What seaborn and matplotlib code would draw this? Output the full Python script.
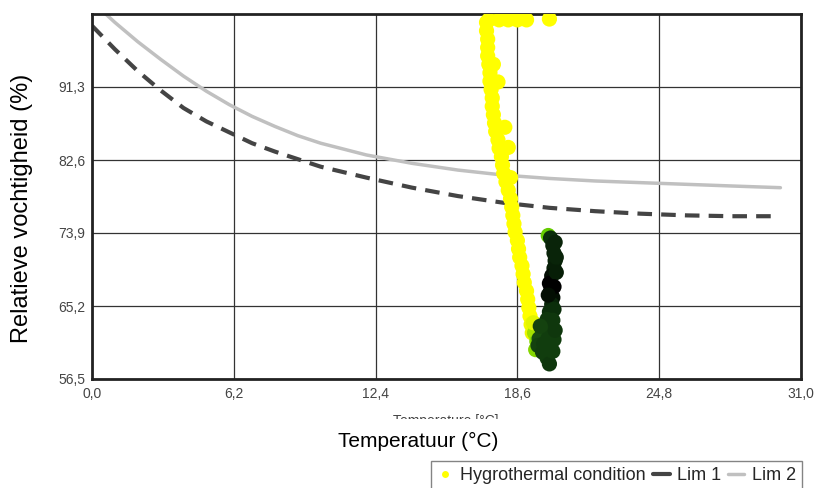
import numpy as np
import pandas as pd
import matplotlib
matplotlib.use("Agg")
import matplotlib.pyplot as plt
import seaborn as sns
from matplotlib.colors import LinearSegmentedColormap
from matplotlib.lines import Line2D
from matplotlib.patches import Rectangle

# limit curves
lim1_t = [0, 1, 2, 3, 4, 5, 6, 7, 8, 9, 10, 12, 14, 16, 18, 20, 22, 24, 26, 28, 29.7]
lim1_rh = [98.6, 95.8, 93.2, 90.9, 88.8, 87.2, 85.9, 84.6, 83.6, 82.7, 81.8, 80.5,
           79.3, 78.3, 77.5, 76.9, 76.5, 76.2, 76.0, 75.9, 75.9]
lim2_t = [0, 1, 2, 3, 4, 5, 6, 7, 8, 9, 10, 12, 14, 16, 18, 20, 22, 24, 26, 28, 30.1]
lim2_rh = [101.5, 99.0, 96.7, 94.6, 92.6, 90.8, 89.2, 87.8, 86.6, 85.5, 84.6, 83.2,
           82.2, 81.4, 80.8, 80.4, 80.1, 79.9, 79.7, 79.5, 79.3]

# hygrothermal measurements: temperature, rh and shade (0 = yellow ... 1 = black)
yel_t = [17.35, 17.8, 18.2, 18.6, 19.0, 20.0,
         17.25, 17.25, 17.3, 17.3, 17.3, 17.35, 17.4, 17.4, 17.45, 17.5, 17.5, 17.55,
         17.6, 17.65, 17.75, 17.8, 17.9, 17.95, 18.0, 18.1, 18.2, 18.3, 18.35, 18.4,
         18.45, 18.5, 18.6, 18.65, 18.7, 18.8, 18.85, 18.9, 19.0, 19.05, 19.1, 19.15,
         19.2, 19.25,
         17.75, 18.05, 18.2, 17.55, 18.3]
yel_rh = [99.3, 99.3, 99.3, 99.3, 99.3, 99.4,
          99, 98, 97, 96, 95, 94, 93, 92, 91, 90, 89, 88,
          87, 86, 85, 84, 83, 82, 81, 80, 79, 78, 77, 76,
          75, 74, 73, 72, 71, 70, 69, 68, 67, 66, 65, 64,
          63, 62,
          91.9, 86.5, 84.1, 94.0, 80.5]
yel_shade = [0] * 42 + [0.15, 0.2] + [0] * 5

mix_t = [19.95, 19.35, 19.4, 19.3, 19.45]
mix_rh = [73.6, 62.0, 60.0, 63.2, 61.0]
mix_shade = [0.5, 0.4, 0.45, 0.3, 0.45]

dark_t = [20.05, 20.15, 20.2, 20.25, 20.2, 20.1, 20.0, 20.05, 20.15, 20.1,
          20.25, 20.3, 20.3, 20.2, 19.95, 20.2,
          20.0, 19.9, 19.85, 19.7, 19.55, 19.5, 19.75, 19.95, 20.2, 20.25, 20.15,
          19.7, 19.9, 20.0, 20.15, 19.6]
dark_rh = [73.3, 72.4, 71.5, 70.6, 69.7, 68.8, 67.9, 67.0, 66.2, 65.4,
           72.8, 71.0, 69.2, 67.5, 66.5, 64.8,
           64.5, 63.6, 62.7, 62.0, 61.3, 60.5, 60.7, 61.4, 61.2, 62.3, 63.5,
           59.7, 59.0, 58.3, 59.8, 62.8]
dark_shade = [0.85, 0.88, 0.88, 0.88, 0.9, 0.95, 1.0, 1.0, 0.95, 0.88,
              0.88, 0.88, 0.9, 1.0, 0.95, 0.85,
              0.85, 0.82, 0.8, 0.78, 0.75, 0.78, 0.8, 0.8, 0.8, 0.82, 0.82,
              0.8, 0.8, 0.82, 0.8, 0.78]

x_ticks = [0, 6.2, 12.4, 18.6, 24.8, 31.0]
y_ticks = [56.5, 65.2, 73.9, 82.6, 91.3]

sns.set_style("white")
plt.rcParams["font.family"] = ["Liberation Sans", "DejaVu Sans"]

fig = plt.figure(figsize=(8.14, 4.88), dpi=100)
ax = fig.add_axes([92 / 814, 1 - 379 / 488, (801 - 92) / 814, (379 - 14) / 488])

cmap = LinearSegmentedColormap.from_list(
    "hyg", [(0, "#ffff00"), (0.3, "#e2f500"), (0.5, "#66cc00"), (0.7, "#1e5a14"),
            (0.85, "#0b2e0b"), (1.0, "#000000")])

pts = pd.DataFrame({"t": yel_t + mix_t + dark_t,
                    "rh": yel_rh + mix_rh + dark_rh,
                    "shade": yel_shade + mix_shade + dark_shade})
sns.scatterplot(data=pts, x="t", y="rh", hue="shade", palette=cmap, hue_norm=(0, 1),
                s=120, linewidth=0, legend=False, ax=ax, zorder=3)

sns.lineplot(x=lim1_t, y=lim1_rh, color="#444444", lw=3, ax=ax, zorder=2,
             linestyle=(0, (3.5, 2.2)))
sns.lineplot(x=lim2_t, y=lim2_rh, color="#c0c0c0", lw=2.5, ax=ax, zorder=2)

ax.set_xlim(0, 31)
ax.set_ylim(56.5, 100)
ax.set_xticks(x_ticks)
ax.set_yticks(y_ticks)
ax.set_xticklabels([f"{v:.1f}".replace(".", ",") for v in x_ticks])
ax.set_yticklabels([f"{v:.1f}".replace(".", ",") for v in y_ticks])
ax.tick_params(length=0, labelsize=10, colors="#444444")
ax.tick_params(axis="x", pad=6)
ax.tick_params(axis="y", pad=5)
ax.grid(True, color="#333333", lw=0.9)
ax.set_axisbelow(True)
for s in ax.spines.values():
    s.set_color("#222222")
    s.set_linewidth(2)
ax.set_xlabel("")
ax.set_ylabel("")

fig.text(22 / 814, 1 - 208 / 488, "Relatieve vochtigheid (%)", rotation=90,
         ha="center", va="center", fontsize=17, color="black")

# cut-off original axis title
fig.text(446 / 814, 1 - 421 / 488, "Temperature [°C]", ha="center", va="center",
         fontsize=10, color="#444444", zorder=1)
fig.add_artist(Rectangle((0.3, 1 - 432 / 488), 0.4, 13 / 488, transform=fig.transFigure,
                         facecolor="white", edgecolor="none", zorder=2))
fig.text(418 / 814, 1 - 441 / 488, "Temperatuur (°C)", ha="center", va="center",
         fontsize=15, color="black", zorder=3)

handles = [
    Line2D([], [], marker="o", color="none", markerfacecolor="#ffff00",
           markeredgecolor="none", markersize=5),
    Line2D([], [], color="#444444", lw=3),
    Line2D([], [], color="#c0c0c0", lw=2.5),
]
leg = fig.legend(handles, ["Hygrothermal condition", "Lim 1", "Lim 2"], ncol=3,
                 loc="upper right", bbox_to_anchor=(802 / 814, 1 - 461 / 488),
                 fontsize=13, frameon=True, fancybox=False, handlelength=0.9,
                 handletextpad=0.4, columnspacing=0.4, borderpad=0.35,
                 borderaxespad=0)
leg.get_frame().set_edgecolor("#666666")
leg.get_frame().set_linewidth(1)

fig.savefig("out.png", dpi=100)
